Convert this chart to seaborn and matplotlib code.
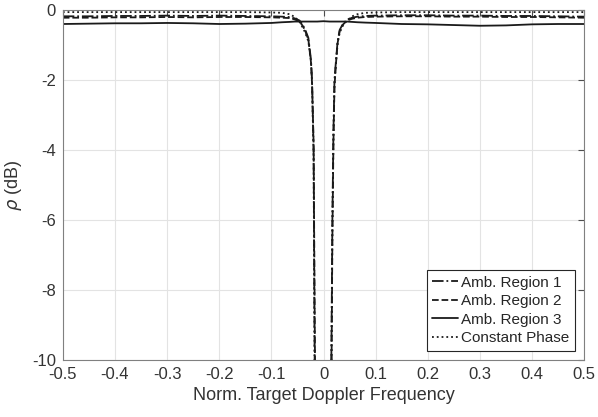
import numpy as np
import pandas as pd
import seaborn as sns
import matplotlib.pyplot as plt

# normalized doppler frequency grid (denser close to the notch)
freq = [-0.5, -0.45, -0.4, -0.35, -0.3, -0.25, -0.2, -0.15, -0.1, -0.08,
        -0.065, -0.055, -0.046, -0.04, -0.035, -0.029, -0.024, -0.022, -0.019, -0.017,
        -0.012, 0.0, 0.012, 0.015, 0.017, 0.019, 0.021, 0.024, 0.027, 0.031,
        0.037, 0.045, 0.055, 0.065, 0.08, 0.1, 0.15, 0.2, 0.25, 0.3,
        0.35, 0.4, 0.45, 0.5]

amb1 = [-0.18, -0.18, -0.17, -0.17, -0.16, -0.17, -0.16, -0.17, -0.18, -0.19,
        -0.2, -0.24, -0.3, -0.42, -0.57, -0.8, -1.43, -2.0, -4.0, -10.0,
        -20.0, -30.0, -20.0, -10.0, -6.0, -3.5, -2.0, -1.43, -0.9, -0.57,
        -0.4, -0.28, -0.22, -0.19, -0.17, -0.16, -0.15, -0.15, -0.16, -0.16,
        -0.17, -0.17, -0.18, -0.19]

amb2 = [-0.22, -0.22, -0.21, -0.21, -0.2, -0.21, -0.2, -0.2, -0.21, -0.22,
        -0.23, -0.27, -0.33, -0.45, -0.6, -0.85, -1.5, -2.1, -3.8, -8.5,
        -20.0, -30.0, -20.0, -11.0, -6.5, -3.8, -2.2, -1.5, -0.95, -0.6,
        -0.42, -0.3, -0.25, -0.22, -0.2, -0.19, -0.18, -0.18, -0.19, -0.19,
        -0.2, -0.2, -0.21, -0.22]

amb3 = [-0.40, -0.39, -0.38, -0.38, -0.37, -0.38, -0.40, -0.39, -0.37, -0.35,
        -0.34, -0.33, -0.33, -0.33, -0.33, -0.33, -0.33, -0.33, -0.33, -0.33,
        -0.33, -0.32, -0.33, -0.33, -0.33, -0.33, -0.33, -0.33, -0.33, -0.33,
        -0.33, -0.33, -0.34, -0.35, -0.36, -0.37, -0.40, -0.41, -0.43, -0.45,
        -0.44, -0.41, -0.40, -0.40]

const_phase = [-0.06, -0.06, -0.06, -0.06, -0.06, -0.06, -0.06, -0.06, -0.07, -0.08,
               -0.12, -0.2, -0.34, -0.5, -0.65, -0.9, -1.5, -2.1, -4.2, -10.5,
               -20.0, -30.0, -20.0, -10.5, -6.2, -3.6, -2.1, -1.5, -0.95, -0.65,
               -0.45, -0.3, -0.18, -0.12, -0.08, -0.07, -0.06, -0.06, -0.06, -0.06,
               -0.06, -0.06, -0.06, -0.06]

labels = ['Amb. Region 1', 'Amb. Region 2', 'Amb. Region 3', 'Constant Phase']
estilos = ['-.', '--', '-', ':']

df = pd.DataFrame({'f': freq * 4,
                   'rho': amb1 + amb2 + amb3 + const_phase,
                   'serie': sum([[l] * len(freq) for l in labels], [])})

sns.set_style('white')
plt.rcParams['font.family'] = ['Liberation Sans', 'DejaVu Sans']
plt.rcParams['axes.unicode_minus'] = False

fig = plt.figure(figsize=(5.98, 4.17), dpi=100)
ax = fig.add_axes([0.105, 0.137, 0.872, 0.839])

for lab, ls in zip(labels, estilos):
    d = df[df['serie'] == lab]
    sns.lineplot(data=d, x='f', y='rho', ax=ax, color='#1a1a1a', linestyle=ls,
                 linewidth=1.3, label=lab, sort=False)

ax.set_xlim(-0.5, 0.5)
ax.set_ylim(-10, 0)
ax.set_xticks(np.round(np.arange(-0.5, 0.51, 0.1), 1))
ax.set_xticklabels(['-0.5', '-0.4', '-0.3', '-0.2', '-0.1', '0', '0.1', '0.2', '0.3', '0.4', '0.5'])
ax.set_yticks([-10, -8, -6, -4, -2, 0])
ax.set_yticklabels(['-10', '-8', '-6', '-4', '-2', '0'])
ax.grid(True, color='#e3e3e3', linewidth=0.8)
ax.tick_params(direction='in', length=4, width=0.8, colors='#4d4d4d', labelcolor='#333333',
               labelsize=12, top=True, right=True, pad=5)
for s in ax.spines.values():
    s.set_color('#808080')
    s.set_linewidth(0.8)
ax.set_xlabel('Norm. Target Doppler Frequency', fontsize=13, color='#333333', labelpad=4)
ax.set_ylabel(r'$\rho$ (dB)', fontsize=13, color='#333333', labelpad=6)

leg = ax.legend(loc='lower right', fontsize=11, handlelength=1.7, handletextpad=0.2,
                labelspacing=0.3, borderpad=0.35, borderaxespad=0.6, fancybox=False,
                framealpha=1, edgecolor='#262626')
leg.get_frame().set_linewidth(0.8)

fig.savefig('out.png', dpi=100)
